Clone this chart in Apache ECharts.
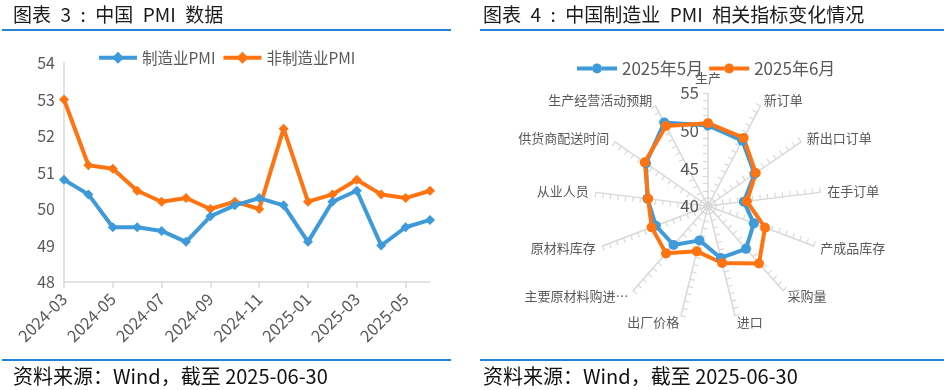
<!DOCTYPE html>
<html>
<head>
<meta charset="utf-8">
<script src="https://cdn.jsdelivr.net/npm/echarts@6/dist/echarts.min.js"></script>
<style>
html,body{margin:0;padding:0;background:#fff;}
#c{width:944px;height:390px;}
</style>
</head>
<body>
<div id="c"></div>
<script>
// ---- Left chart data ----
var months = ['2024-03','2024-04','2024-05','2024-06','2024-07','2024-08','2024-09','2024-10','2024-11','2024-12','2025-01','2025-02','2025-03','2025-04','2025-05','2025-06'];
var mfgPMI = [50.8,50.4,49.5,49.5,49.4,49.1,49.8,50.1,50.3,50.1,49.1,50.2,50.5,49.0,49.5,49.7];
var nonMfgPMI = [53.0,51.2,51.1,50.5,50.2,50.3,50.0,50.2,50.0,52.2,50.2,50.4,50.8,50.4,50.3,50.5];
var lineSeriesNames = ['制造业PMI','非制造业PMI'];
var yTicks = [48,49,50,51,52,53,54];

// ---- Right chart data (clockwise from top) ----
var radarCats = ['生产','新订单','新出口订单','在手订单','产成品库存','采购量','进口','出厂价格','主要原材料购进价格','原材料库存','从业人员','供货商配送时间','生产经营活动预期'];
var may2025 = [50.7,49.8,47.5,44.8,46.5,47.6,47.1,44.7,46.9,47.4,48.1,50.0,52.5];
var jun2025 = [51.0,50.2,47.7,45.2,48.1,50.2,47.8,46.2,48.4,48.0,48.0,50.2,52.0];
var radarSeriesNames = ['2025年5月','2025年6月'];
var radarTicks = [40,45,50,55];

var BLUE = '#3E9AD9';
var ORANGE = '#FF7410';
var GRAY = '#595959';
var AXIS = '#D9D9D9';
var FONT = '"Noto Sans CJK SC", "Noto Sans", sans-serif';
var SP = '\u2002';

// ECharts radar places indicators counter-clockwise; reverse (keeping first at top) for clockwise order
function toCCW(arr){ return [arr[0]].concat(arr.slice(1).reverse()); }
var radarMin = radarTicks[0], radarMax = radarTicks[radarTicks.length-1];
var indicators = toCCW(radarCats).map(function(n, i){
  var o = {name: n, min: radarMin, max: radarMax};
  if (i === 0) {
    o.axisLabel = {show: true, color: GRAY, fontSize: 17, margin: 9, fontFamily: FONT,
      formatter: function(v){ return radarTicks.indexOf(Math.round(v)) >= 0 && Math.abs(v-Math.round(v))<1e-6 ? String(Math.round(v)) : ''; }};
  }
  return o;
});

var legendLineCircle = 'path://M0,3H15V7H0Z M25,3H40V7H25Z M15,5A5,5 0 1,1 25,5A5,5 0 1,1 15,5Z';

var titleStyle = {fontSize: 19, fontWeight: 'normal', color: '#1a1a1a', fontFamily: FONT};
var footStyle = {fontSize: 20, fontWeight: 'normal', color: '#111', fontFamily: FONT};

var chart = echarts.init(document.getElementById('c'), null, {renderer: 'canvas'});
chart.setOption({
  animation: false,
  backgroundColor: '#fff',
  textStyle: {fontFamily: FONT},
  title: [
    {text: '图表' + SP + '3' + SP + ':' + SP + '中国' + SP + 'PMI' + SP + '数据', left: 8, top: 0, padding: 5, textStyle: titleStyle},
    {text: '图表' + SP + '4' + SP + ':' + SP + '中国制造业' + SP + 'PMI' + SP + '相关指标变化情况', left: 478, top: 0, padding: 5, textStyle: titleStyle},
    {text: '资料来源：Wind，截至 2025-06-30', left: 8, top: 361, padding: 5, textStyle: footStyle},
    {text: '资料来源：Wind，截至 2025-06-30', left: 478, top: 361, padding: 5, textStyle: footStyle}
  ],
  graphic: [
    {type: 'rect', shape: {x: 2, y: 29, width: 449, height: 2}, style: {fill: '#2383D8'}, silent: true},
    {type: 'rect', shape: {x: 480, y: 29, width: 464, height: 2}, style: {fill: '#2383D8'}, silent: true},
    {type: 'rect', shape: {x: 2, y: 359, width: 449, height: 2}, style: {fill: '#2383D8'}, silent: true},
    {type: 'rect', shape: {x: 480, y: 359, width: 464, height: 2}, style: {fill: '#2383D8'}, silent: true}
  ],
  legend: [
    {data: lineSeriesNames, left: 92, top: 45, itemWidth: 38, itemHeight: 15, itemGap: 6,
      lineStyle: {width: 4},
      textStyle: {fontSize: 15.5, color: GRAY, fontFamily: FONT}},
    {data: radarSeriesNames.map(function(n){ return {name: n, icon: legendLineCircle}; }),
      left: 572, top: 55, itemWidth: 40, itemHeight: 10, itemGap: 6,
      textStyle: {fontSize: 17, color: GRAY, fontFamily: FONT}}
  ],
  grid: {left: 64, top: 63, width: 366, height: 219, containLabel: false},
  xAxis: {
    type: 'category', data: months, boundaryGap: false,
    axisLine: {lineStyle: {color: AXIS, width: 1.5}},
    axisTick: {show: true, interval: 1, length: 6, lineStyle: {color: AXIS, width: 1.5}},
    axisLabel: {interval: 1, rotate: 45, color: GRAY, fontSize: 16.5, margin: 14, fontFamily: FONT},
    splitLine: {show: false}
  },
  yAxis: {
    type: 'value', min: yTicks[0], max: yTicks[yTicks.length-1], interval: 1,
    axisLine: {show: true, lineStyle: {color: AXIS, width: 1.5}},
    axisTick: {show: false},
    axisLabel: {color: GRAY, fontSize: 16, margin: 9, fontFamily: FONT},
    splitLine: {show: false}
  },
  radar: {
    center: [708, 206], radius: 113, startAngle: 90, shape: 'polygon',
    splitNumber: 15,
    indicator: indicators,
    axisName: {color: GRAY, fontSize: 13, fontFamily: FONT,
      formatter: function(v){ return v.length > 8 ? v.slice(0,7) + '…' : v; }},
    nameGap: 7,
    axisLine: {lineStyle: {color: AXIS, width: 1.5}},
    axisTick: {show: true, length: 5, lineStyle: {color: AXIS, width: 1.2}},
    axisLabel: {show: false},
    splitLine: {show: false},
    splitArea: {show: false}
  },
  series: [
    {name: lineSeriesNames[0], type: 'line', data: mfgPMI, symbol: 'diamond', symbolSize: 10,
      itemStyle: {color: BLUE}, lineStyle: {color: BLUE, width: 4}, z: 3},
    {name: lineSeriesNames[1], type: 'line', data: nonMfgPMI, symbol: 'diamond', symbolSize: 10,
      itemStyle: {color: ORANGE}, lineStyle: {color: ORANGE, width: 4}, z: 2},
    {type: 'radar', symbol: 'circle', symbolSize: 10,
      data: [
        {name: radarSeriesNames[0], value: toCCW(may2025), itemStyle: {color: BLUE}, lineStyle: {color: BLUE, width: 4}},
        {name: radarSeriesNames[1], value: toCCW(jun2025), itemStyle: {color: ORANGE}, lineStyle: {color: ORANGE, width: 4}}
      ]}
  ]
});
</script>
</body>
</html>
